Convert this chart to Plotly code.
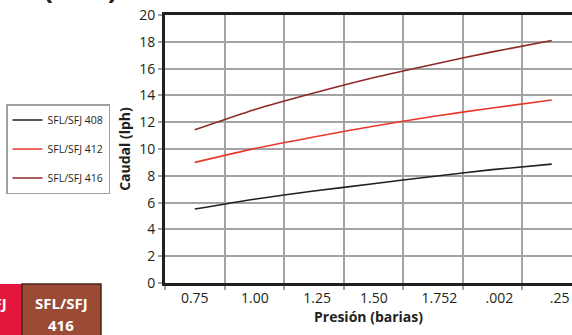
import plotly.graph_objects as go

# ---- data ----
presion = [0.75, 1.00, 1.25, 1.50, 1.75, 2.00, 2.25]
tick_labels = ["0.75", "1.00", "1.25", "1.50", "1.752", ".002", ".25"]
sfl_408 = [5.52, 6.25, 6.86, 7.41, 7.95, 8.46, 8.87]
sfl_412 = [9.00, 10.03, 10.90, 11.70, 12.43, 13.06, 13.66]
sfl_416 = [11.43, 12.93, 14.18, 15.32, 16.31, 17.25, 18.10]
series_names = ["SFL/SFJ 408", "SFL/SFJ 412", "SFL/SFJ 416"]
y_ticks = [0, 2, 4, 6, 8, 10, 12, 14, 16, 18, 20]

# ---- geometry helpers ----
W, H = 572, 335
ML, MR, MT, MB = 165, 0, 15, 52
PW, PH = W - ML - MR, H - MT - MB


def px_x(px):
    return (px - ML) / PW


def px_y(py):
    return (H - MB - py) / PH


colors = ["#231f20", "#e8392a", "#8e2a26"]
font_fam = "Open Sans, Noto Sans, sans-serif"
ink = "#231f20"
grid = "#a3a3a3"

fig = go.Figure()
for i, (name, vals) in enumerate(zip(series_names, [sfl_408, sfl_412, sfl_416])):
    fig.add_trace(go.Scatter(
        x=presion, y=vals, name=name, mode="lines",
        line=dict(color=colors[i], width=1.6, shape="spline", smoothing=0.6),
        legendgroup=name,
    ))

step = presion[1] - presion[0]
x0 = presion[0] - step / 2
x1 = x0 + step * (PW / 59.5)
label_shift = [0.0, 0.003, 0.014, 0.003, 0.028, 0.03, 0.033]

fig.update_layout(
    width=W, height=H,
    margin=dict(l=ML, r=MR, t=MT, b=MB, pad=0, autoexpand=False),
    paper_bgcolor="white", plot_bgcolor="white",
    font=dict(family=font_fam, color=ink, size=14),
    showlegend=True,
    legend=dict(
        x=px_x(6), y=px_y(104), xanchor="left", yanchor="top",
        bordercolor="#a0a0a0", borderwidth=1.5, bgcolor="white",
        font=dict(size=10.5, color=ink), itemwidth=30,
        tracegroupgap=10, traceorder="grouped",
    ),
    xaxis=dict(
        range=[x0, x1], tickmode="array",
        tickvals=[p + s for p, s in zip(presion, label_shift)],
        ticktext=tick_labels, ticks="", showgrid=False, zeroline=False,
        showline=True, linecolor=ink, linewidth=3, mirror=True,
        tickfont=dict(size=14, color=ink),
        minor=dict(tickmode="linear", tick0=x0, dtick=step, showgrid=True,
                   gridcolor=grid, gridwidth=1.5, ticks="outside", ticklen=4,
                   tickcolor=grid, tickwidth=1.5),
        title=dict(text="Presión (barias)", font=dict(size=14, weight="bold", color=ink), standoff=2),
    ),
    yaxis=dict(
        range=[0, 20], tickmode="array", tickvals=y_ticks,
        showgrid=True, gridcolor=grid, gridwidth=1.5, zeroline=False,
        showline=True, linecolor=ink, linewidth=3, mirror=False,
        ticks="outside", ticklen=4, tickcolor=grid, tickwidth=1.5,
        tickfont=dict(size=14, color=ink),
        title=dict(text="Caudal (lph)", font=dict(size=14, weight="bold", color=ink), standoff=6),
    ),
)

# cropped heading at top-left
fig.add_annotation(
    text="CAUDAL (LPH)", xref="paper", yref="paper",
    x=px_x(119), y=px_y(9), xanchor="right", yanchor="bottom",
    showarrow=False, font=dict(size=28, weight="bold", color=ink, family=font_fam),
)

# bottom-left colour boxes
fig.add_shape(type="rect", xref="paper", yref="paper",
              x0=px_x(-60), x1=px_x(22), y0=px_y(284), y1=px_y(340),
              fillcolor="#e3173d", line=dict(width=0), layer="above")
fig.add_shape(type="rect", xref="paper", yref="paper",
              x0=px_x(22), x1=px_x(101), y0=px_y(284), y1=px_y(340),
              fillcolor="#9a4a35", line=dict(width=1.5, color="#4a2418"), layer="above")
for cx, label in [(-20, "412"), (61, "416")]:
    for cy, txt in [(303, "SFL/SFJ"), (325, label)]:
        fig.add_annotation(
            text=txt, xref="paper", yref="paper", x=px_x(cx), y=px_y(cy),
            xanchor="center", yanchor="middle", showarrow=False,
            font=dict(size=15, weight="bold", color="white", family=font_fam),
        )

fig.write_html("out.html", config={"displayModeBar": False},
               post_script="document.body.style.margin='0';document.body.style.overflow='hidden';")
